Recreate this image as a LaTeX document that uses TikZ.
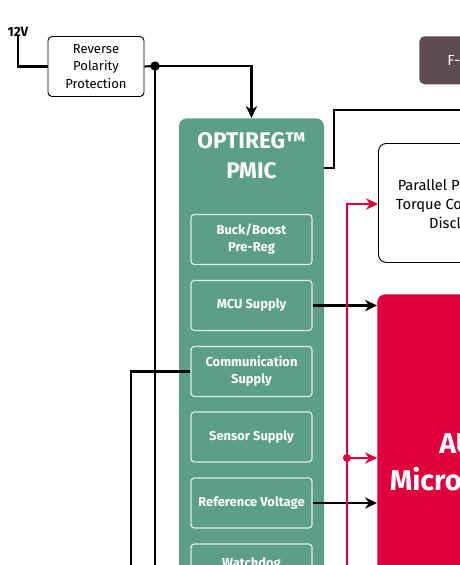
\documentclass[tikz,border=0pt]{standalone}
\usepackage{fontspec}
\setmainfont{Fira Sans}
\usetikzlibrary{arrows.meta, positioning, calc}

\definecolor{pmicgreen}{HTML}{5C9F89}
\definecolor{ifxred}{HTML}{E2003A}
\definecolor{fbrown}{HTML}{5E4B50}

\begin{document}
\begin{tikzpicture}[
    x=0.75pt, y=-0.75pt,
    block/.style={rectangle, rounded corners=3pt, draw=black, line width=0.7pt, fill=white, align=center, font=\fontsize{9.8}{13.2}\selectfont},
    pmicbox/.style={rectangle, rounded corners=6pt, fill=pmicgreen, minimum width=108.75pt, minimum height=450pt, anchor=north},
    subblk/.style={rectangle, rounded corners=2.5pt, draw=white!80!pmicgreen, line width=0.9pt, minimum width=90.75pt, minimum height=37.5pt, text=white, font=\fontsize{9.7}{12.8}\selectfont\bfseries, align=center},
    redblk/.style={rectangle, rounded corners=6pt, fill=ifxred, minimum width=150pt, minimum height=300pt, anchor=north west},
    brownblk/.style={rectangle, rounded corners=4pt, fill=fbrown, minimum width=60pt, minimum height=36pt, anchor=north west},
    title/.style={text=white, font=\fontsize{17}{22.5}\selectfont\bfseries, align=center},
    big/.style={text=white, font=\fontsize{21.5}{28}\selectfont\bfseries, anchor=west, inner sep=0pt},
    arr/.style={line width=1.6pt, -{Stealth[length=9pt, width=8.5pt]}},
    wire/.style={line width=1.6pt},
    rwire/.style={line width=1.4pt, draw=ifxred},
    rarr/.style={rwire, -{Stealth[length=9pt, width=8.5pt]}},
    dot/.style={circle, fill, inner sep=0pt, minimum size=7pt}
  ]
    \useasboundingbox (0,0) rectangle (460,565);
    \clip (0,0) rectangle (460,565);

    % --- Supply input ---
    \node[font=\fontsize{10}{12}\selectfont\bfseries, inner sep=0pt] (v12) at (18,32) {12V};
    \node[block, minimum width=72pt, minimum height=45pt] (rpp) at (96,66.5) {Reverse\\Polarity\\Protection};

    % --- PMIC (green) ---
    \node[pmicbox] (pmic) at (251.5,118) {};
    \node[title] (ptitle) at (251.5,156) {OPTIREG™\\PMIC};
    \node[subblk] (buck) at (251.5,239.5) {Buck/Boost\\Pre-Reg};
    \node[subblk] (mcus) at (251.5,305.5) {MCU Supply};
    \node[subblk] (comms) at (251.5,371.5) {Communication\\Supply};
    \node[subblk] (sens) at (251.5,437) {Sensor Supply};
    \node[subblk] (refv) at (251.5,503) {Reference Voltage};
    \node[subblk] (wdog) at (251.5,569) {};
    \node[text=white, font=\fontsize{9.7}{12.8}\selectfont\bfseries, anchor=base, inner sep=0pt] (wtxt) at (251.5,567) {Watchdog};

    % --- Right-hand blocks ---
    \node[brownblk] (fblk) at (419,36) {};
    \node[text=white, font=\fontsize{11}{13}\selectfont, anchor=west, inner sep=0pt] (ftxt) at (447,60) {F-};

    \node[block, rounded corners=6pt, minimum width=150pt, minimum height=89.25pt, anchor=north west] (ppc) at (378,143) {};
    \node[font=\fontsize{11}{14.3}\selectfont, align=left, anchor=west, inner sep=0pt] (ptxt) at (395.5,204) {\hspace*{1.5pt}Parallel P\\Torque Co\\\hspace*{25pt}Discl};

    \node[redblk] (mcu) at (377,294) {};
    \node[big] (mtxt1) at (439,444) {AU};
    \node[big] (mtxt2) at (389.5,479) {Micro};

    % --- Coordinates ---
    \coordinate (jn) at (155,66);
    \coordinate (jnb) at (155,570);
    \coordinate (cdn) at (131,570);
    \coordinate (fout) at (470,110);
    \coordinate (rbus) at (347,570);
    \coordinate (rjn) at (347,458);

    % --- Black wires ---
    \draw[wire] (v12.south) ++(0,-1) |- (rpp.west);
    \draw[wire] (rpp.east) -- (jn);
    \draw[arr] (jn) -| (pmic.north);
    \draw[wire] (jn) -- (jnb);
    \node[dot] (jdot) at (jn) {};
    \draw[wire] ($(pmic.north east)+(0,50)$) -- ++(10,0) |- (fout);
    \draw[arr] (mcus.east) -- (mcus.east -| mcu.west);
    \draw[arr] (refv.east) -- (refv.east -| mcu.west);
    \draw[wire] (comms.west) -| (cdn);

    % --- Red wires ---
    \draw[rarr] (rbus) |- ($(ppc.north west)+(0,61)$);
    \draw[rarr] (rjn) -- (rjn -| mcu.west);
    \node[dot, fill=ifxred, minimum size=6pt] (rdot) at (rjn) {};

\end{tikzpicture}
\end{document}
